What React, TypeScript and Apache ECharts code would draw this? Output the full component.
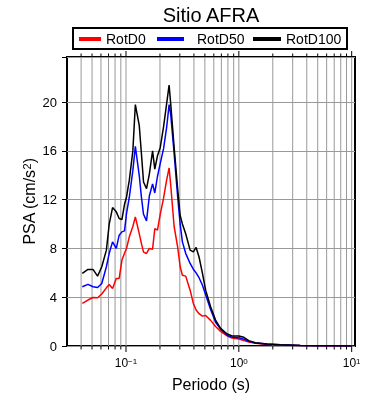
import React, { useEffect, useRef } from 'react';
import * as echarts from 'echarts';

// Periods (s)
const periods = [
  0.041, 0.046, 0.051, 0.056, 0.061, 0.067, 0.071, 0.076, 0.082, 0.087,
  0.092, 0.097, 0.101, 0.107, 0.115, 0.121, 0.131, 0.137, 0.143, 0.152,
  0.161, 0.172, 0.18, 0.19, 0.201, 0.215, 0.229, 0.241, 0.249, 0.267,
  0.286, 0.302, 0.316, 0.338, 0.37, 0.395, 0.418, 0.444, 0.475, 0.508,
  0.562, 0.622, 0.689, 0.789, 0.873, 1.0, 1.107, 1.225, 1.4, 1.78,
  2.33, 3.5, 5.0, 7.0, 10.0,
];

const rotD0 = [
  3.49, 3.77, 3.98, 3.96, 4.26, 4.77, 5.05, 4.72, 5.54, 5.54,
  7.04, 7.6, 8.0, 8.95, 9.8, 10.59, 9.22, 8.4, 7.7, 7.59,
  8.0, 7.94, 9.63, 9.5, 10.8, 12.1, 13.6, 14.6, 13.2, 9.8,
  8.2, 6.5, 5.8, 5.73, 4.58, 3.49, 2.95, 2.65, 2.45, 2.5,
  2.1, 1.6, 1.2, 0.82, 0.66, 0.57, 0.44, 0.33, 0.22, 0.13,
  0.08, 0.04, 0.02, 0.01, 0.01,
];

const rotD50 = [
  4.86, 5.05, 4.86, 4.8, 5.13, 6.5, 7.6, 8.54, 8.0, 9.09,
  9.36, 9.44, 10.86, 12.2, 14.4, 16.37, 14.0, 12.2, 10.8, 10.26,
  12.3, 13.3, 12.55, 13.9, 14.95, 16.16, 17.9, 19.8, 19.0, 15.8,
  12.4, 10.0, 8.54, 7.6, 6.77, 6.3, 6.0, 5.6, 5.0, 4.2,
  3.0, 1.95, 1.38, 0.87, 0.71, 0.68, 0.55, 0.38, 0.25, 0.16,
  0.1, 0.05, 0.03, 0.02, 0.01,
];

const rotD100 = [
  5.95, 6.28, 6.28, 5.73, 6.5, 7.86, 10.0, 11.35, 11.0, 10.45,
  10.37, 11.62, 12.2, 13.6, 16.0, 19.8, 18.1, 15.77, 13.45, 12.9,
  14.1, 16.0, 14.5, 15.6, 16.26, 17.95, 19.86, 21.4, 19.86, 16.3,
  13.04, 10.7, 10.0, 9.2, 7.86, 7.72, 8.08, 7.3, 6.0, 4.58,
  3.22, 2.13, 1.45, 0.98, 0.82, 0.82, 0.71, 0.44, 0.27, 0.16,
  0.11, 0.05, 0.03, 0.02, 0.01,
];

const seriesNames = ['RotD0', 'RotD50', 'RotD100'];
const seriesColors = ['#ff0000', '#0000ff', '#000000'];

// Log-axis grid / tick positions
const xGridTicks = [
  0.04, 0.05, 0.06, 0.07, 0.08, 0.09,
  0.1, 0.2, 0.3, 0.4, 0.5, 0.6, 0.7, 0.8, 0.9,
  1, 2, 3, 4, 5, 6, 7, 8, 9, 10,
];
const xMajorTicks = [0.1, 1, 10];

const X_MIN = 0.03;
const X_MAX = 10.7;
const Y_MIN = 0;
const Y_MAX = 23.7;
const Y_STEP = 4;

const FONT = "'Liberation Sans', Arial, Helvetica, sans-serif";

export default function App() {
  const ref = useRef<HTMLDivElement>(null);

  useEffect(() => {
    if (!ref.current) return;
    const chart = echarts.init(ref.current, null, { renderer: 'svg' });
    const pairs = (vals: number[]) => periods.map((p, i) => [p, vals[i]]);
    const allVals = [rotD0, rotD50, rotD100];

    const legendLefts = [79, 157, 253];
    const legendWidths = [22, 27, 28];
    const legendPads = [0, 8, 0];

    const option: any = {
      animation: false,
      textStyle: { fontFamily: FONT, color: '#000' },
      grid: {
        left: 67,
        top: 57,
        width: 288,
        height: 289,
        show: true,
        borderColor: '#000',
        borderWidth: 2,
        backgroundColor: 'transparent',
        containLabel: false,
      },
      graphic: [
        {
          type: 'text',
          x: 211,
          y: 15,
          style: {
            text: 'Sitio AFRA',
            font: `20px ${FONT}`,
            fill: '#000',
            textAlign: 'center',
            textVerticalAlign: 'middle',
          },
        },
        {
          type: 'rect',
          shape: { x: 73, y: 28, width: 274, height: 21 },
          style: { fill: 'none', stroke: '#000', lineWidth: 2 },
        },
      ],
      legend: seriesNames.map((n, i) => ({
        data: [n],
        left: legendLefts[i],
        top: 32,
        padding: 0,
        itemWidth: legendWidths[i],
        itemHeight: 4,
        icon: 'rect',
        selectedMode: false,
        textStyle: {
          fontSize: 14,
          fontFamily: FONT,
          color: '#000',
          padding: [0, 0, 0, legendPads[i]],
        },
      })),
      xAxis: {
        type: 'log',
        logBase: 10,
        min: X_MIN,
        max: X_MAX,
        name: 'Periodo (s)',
        nameLocation: 'middle',
        nameGap: 30,
        nameMoveOverlap: false,
        nameTextStyle: { fontSize: 16, color: '#000', fontFamily: FONT },
        axisLine: { show: false },
        axisTick: { show: false },
        splitLine: { show: false },
        axisLabel: {
          margin: 11,
          color: '#000',
          formatter: (v: number) => {
            const l = Math.log10(v);
            const r = Math.round(l);
            if (Math.abs(l - r) > 1e-6) return '';
            return '{b|10}{s|' + (r < 0 ? '\u2212' + -r : String(r)) + '}';
          },
          rich: {
            b: { fontSize: 12, fontFamily: FONT, color: '#000' },
            s: { fontSize: 8, fontFamily: FONT, color: '#000', verticalAlign: 'top' },
          },
        },
      },
      yAxis: {
        type: 'value',
        min: Y_MIN,
        max: Y_MAX,
        interval: Y_STEP,
        name: 'PSA (cm/s{s|2})',
        nameLocation: 'middle',
        nameGap: 30,
        nameMoveOverlap: false,
        nameRotate: 90,
        nameTextStyle: {
          fontSize: 16,
          color: '#000',
          fontFamily: FONT,
          rich: {
            s: { fontSize: 11, fontFamily: FONT, color: '#000', verticalAlign: 'top' },
          },
        },
        axisLine: { show: false },
        axisTick: { show: true, length: 5, lineStyle: { color: '#000', width: 1 } },
        axisLabel: {
          margin: 10,
          fontSize: 13,
          color: '#000',
          formatter: (v: number) => (Math.abs(v % Y_STEP) < 1e-9 ? String(v) : ''),
        },
        splitLine: { show: true, lineStyle: { color: '#999', width: 1 } },
      },
      series: [
        {
          type: 'custom',
          name: 'xgrid',
          silent: true,
          z: 1,
          clip: false,
          data: xGridTicks.map((v) => [v, 0]),
          encode: { x: 0, y: 1 },
          renderItem: (params: any, api: any) => {
            const v = api.value(0);
            const b = api.coord([v, Y_MIN]);
            const t = api.coord([v, Y_MAX]);
            const major = xMajorTicks.some((m) => Math.abs(m - v) < 1e-9);
            const len = major ? 6 : 3.5;
            return {
              type: 'group',
              children: [
                {
                  type: 'line',
                  shape: { x1: b[0], y1: b[1], x2: t[0], y2: t[1] },
                  style: { stroke: '#999', lineWidth: 1 },
                },
                {
                  type: 'line',
                  shape: { x1: b[0], y1: b[1], x2: b[0], y2: b[1] + len },
                  style: { stroke: '#000', lineWidth: 1 },
                },
                {
                  type: 'line',
                  shape: { x1: t[0], y1: t[1], x2: t[0], y2: t[1] - len },
                  style: { stroke: '#000', lineWidth: 1 },
                },
              ],
            };
          },
        },
        ...seriesNames.map((n, i) => ({
          type: 'line',
          name: n,
          z: 3,
          data: pairs(allVals[i]),
          showSymbol: false,
          symbol: 'none',
          color: seriesColors[i],
          itemStyle: { color: seriesColors[i] },
          lineStyle: { color: seriesColors[i], width: 1.5 },
          silent: true,
        })),
      ],
    };

    chart.setOption(option);
    return () => chart.dispose();
  }, []);

  return (
    <div
      ref={ref}
      style={{ position: 'fixed', left: 0, top: 0, width: 390, height: 400 }}
    />
  );
}
